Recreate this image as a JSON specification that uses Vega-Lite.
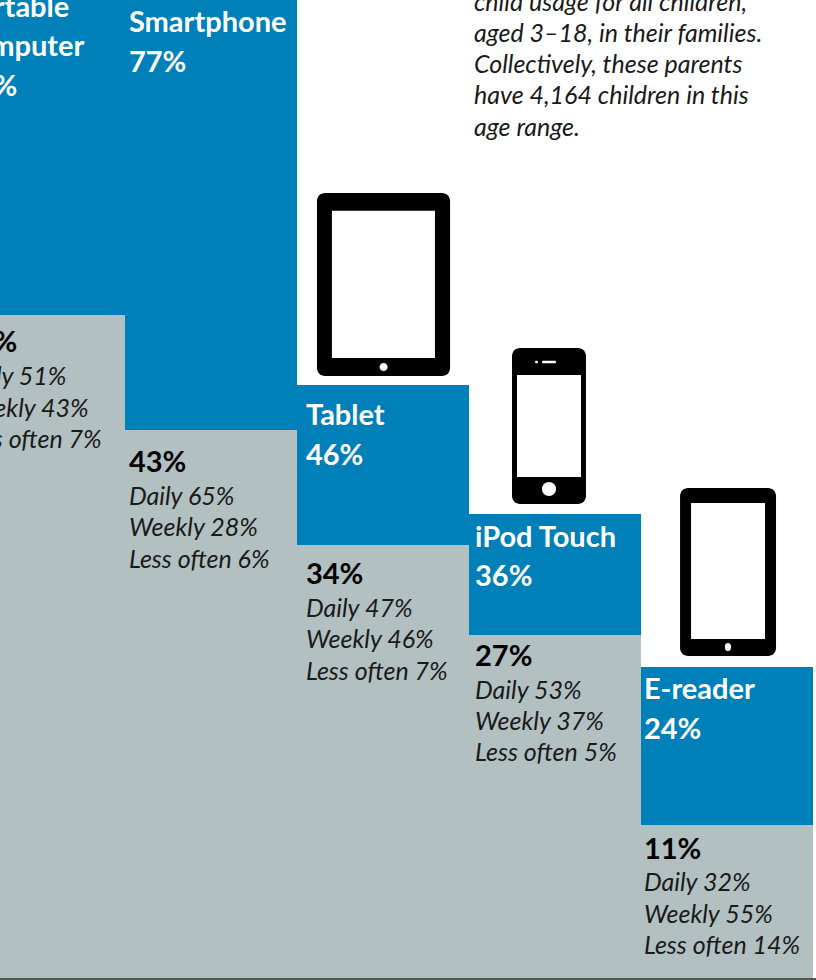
{"$schema":"https://vega.github.io/schema/vega-lite/v6.json","width":816,"height":980,"autosize":"none","padding":0,"background":"white","config":{"view":{"stroke":null}},
"datasets":{
"bars":[{"device":"Portable computer","start":0,"end":1,"owned":87,"used":51.47},{"device":"Smartphone","start":1,"end":2,"owned":77,"used":42.56},{"device":"Tablet","start":2,"end":3,"owned":46.05,"used":33.64},{"device":"iPod Touch","start":3,"end":4,"owned":36.05,"used":26.67},{"device":"E-reader","start":4,"end":5,"owned":24.19,"used":11.94}],
"parts":[
{"device":"Tablet","part":"body","a":2.116,"b":2.89,"top":60.93,"bottom":46.74},
{"device":"Tablet","part":"screen","a":2.203,"b":2.802,"top":59.55,"bottom":48.14},
{"device":"Tablet","part":"button","a":2.48,"b":2.527,"top":47.75,"bottom":47.13},
{"device":"iPod Touch","part":"body","a":3.25,"b":3.68,"top":48.91,"bottom":36.82},
{"device":"iPod Touch","part":"screen","a":3.279,"b":3.651,"top":46.82,"bottom":38.91},
{"device":"iPod Touch","part":"button","a":3.424,"b":3.506,"top":38.53,"bottom":37.44},
{"device":"iPod Touch","part":"button","a":3.424,"b":3.506,"top":47.93,"bottom":47.73},
{"device":"iPod Touch","part":"button","a":3.384,"b":3.401,"top":47.93,"bottom":47.73},
{"device":"E-reader","part":"body","a":4.227,"b":4.785,"top":38.07,"bottom":25.04},
{"device":"E-reader","part":"screen","a":4.291,"b":4.721,"top":36.9,"bottom":26.36},
{"device":"E-reader","part":"button","a":4.488,"b":4.523,"top":26.05,"bottom":25.43}],
"labels":[
{"text":"Portable","kind":"head","pos":0.04,"level":75.35},
{"text":"computer","kind":"head","pos":0.04,"level":72.33},
{"text":"87%","kind":"head","pos":0.04,"level":69.22},
{"text":"Smartphone","kind":"head","pos":1.023,"level":74.19},
{"text":"77%","kind":"head","pos":1.023,"level":71.09},
{"text":"Tablet","kind":"head","pos":2.052,"level":43.72},
{"text":"46%","kind":"head","pos":2.052,"level":40.62},
{"text":"iPod Touch","kind":"head","pos":3.035,"level":34.26},
{"text":"36%","kind":"head","pos":3.035,"level":31.24},
{"text":"E-reader","kind":"head","pos":4.017,"level":22.48},
{"text":"24%","kind":"head","pos":4.017,"level":19.38},
{"text":"52%","kind":"use","pos":0.04,"level":49.38},
{"text":"Daily 51%","kind":"detail","pos":0.04,"level":46.74},
{"text":"Weekly 43%","kind":"detail","pos":0.04,"level":44.26},
{"text":"Less often 7%","kind":"detail","pos":0.04,"level":41.86},
{"text":"43%","kind":"use","pos":1.023,"level":40.08},
{"text":"Daily 65%","kind":"detail","pos":1.023,"level":37.44},
{"text":"Weekly 28%","kind":"detail","pos":1.023,"level":35.04},
{"text":"Less often 6%","kind":"detail","pos":1.023,"level":32.56},
{"text":"34%","kind":"use","pos":2.052,"level":31.4},
{"text":"Daily 47%","kind":"detail","pos":2.052,"level":28.76},
{"text":"Weekly 46%","kind":"detail","pos":2.052,"level":26.36},
{"text":"Less often 7%","kind":"detail","pos":2.052,"level":23.88},
{"text":"27%","kind":"use","pos":3.035,"level":25.04},
{"text":"Daily 53%","kind":"detail","pos":3.035,"level":22.4},
{"text":"Weekly 37%","kind":"detail","pos":3.035,"level":20},
{"text":"Less often 5%","kind":"detail","pos":3.035,"level":17.6},
{"text":"11%","kind":"use","pos":4.017,"level":10.08},
{"text":"Daily 32%","kind":"detail","pos":4.017,"level":7.52},
{"text":"Weekly 55%","kind":"detail","pos":4.017,"level":5.04},
{"text":"Less often 14%","kind":"detail","pos":4.017,"level":2.64},
{"text":"child usage for all children,","kind":"detail","pos":3.029,"level":75.74},
{"text":"aged 3–18, in their families.","kind":"detail","pos":3.029,"level":73.33},
{"text":"Collectively, these parents","kind":"detail","pos":3.029,"level":70.93},
{"text":"have 4,164 children in this","kind":"detail","pos":3.029,"level":68.53},
{"text":"age range.","kind":"detail","pos":3.029,"level":66.05}]
},
"layer":[
{"data":{"name":"bars"},"mark":{"type":"rect","clip":true,"color":"#0080b8"},"encoding":{"x":{"field":"start","type":"quantitative"},"x2":{"field":"end"},"y":{"field":"owned","type":"quantitative"},"y2":{"field":"used"}}},
{"data":{"name":"bars"},"mark":{"type":"rect","clip":true,"color":"#b2c0c1"},"encoding":{"x":{"field":"start","type":"quantitative"},"x2":{"field":"end"},"y":{"field":"used","type":"quantitative"},"y2":{"datum":0}}},
{"data":{"values":[{"from":0.27,"to":5.02,"top":0.08,"bottom":-0.08}]},"mark":{"type":"rect","clip":true,"color":"#555555"},"encoding":{"x":{"field":"from","type":"quantitative"},"x2":{"field":"to"},"y":{"field":"top","type":"quantitative"},"y2":{"field":"bottom"}}},
{"data":{"name":"parts"},"transform":[{"filter":"datum.part==='body'"}],"mark":{"type":"rect","color":"#000000","cornerRadius":8},"encoding":{"x":{"field":"a","type":"quantitative"},"x2":{"field":"b"},"y":{"field":"top","type":"quantitative"},"y2":{"field":"bottom"}}},
{"data":{"name":"parts"},"transform":[{"filter":"datum.part==='screen'"}],"mark":{"type":"rect","color":"#ffffff"},"encoding":{"x":{"field":"a","type":"quantitative"},"x2":{"field":"b"},"y":{"field":"top","type":"quantitative"},"y2":{"field":"bottom"}}},
{"data":{"name":"parts"},"transform":[{"filter":"datum.part==='button'"}],"mark":{"type":"rect","color":"#ffffff","cornerRadius":7},"encoding":{"x":{"field":"a","type":"quantitative"},"x2":{"field":"b"},"y":{"field":"top","type":"quantitative"},"y2":{"field":"bottom"}}},
{"data":{"name":"labels"},"transform":[{"filter":"datum.kind==='head'"}],"mark":{"type":"text","clip":true,"align":"left","baseline":"middle","dy":1,"font":"Lato","fontWeight":"bold","fontSize":29,"color":"#ffffff"},"encoding":{"x":{"field":"pos","type":"quantitative"},"y":{"field":"level","type":"quantitative"},"text":{"field":"text"}}},
{"data":{"name":"labels"},"transform":[{"filter":"datum.kind==='use'"}],"mark":{"type":"text","clip":true,"align":"left","baseline":"middle","dy":1,"font":"Lato","fontWeight":"bold","fontSize":29,"color":"#000000"},"encoding":{"x":{"field":"pos","type":"quantitative"},"y":{"field":"level","type":"quantitative"},"text":{"field":"text"}}},
{"data":{"name":"labels"},"transform":[{"filter":"datum.kind==='detail'"}],"mark":{"type":"text","clip":true,"align":"left","baseline":"middle","dy":1,"font":"Lato","fontStyle":"italic","fontSize":25,"color":"#1a1a1a"},"encoding":{"x":{"field":"pos","type":"quantitative"},"y":{"field":"level","type":"quantitative"},"text":{"field":"text"}}}
],
"encoding":{"x":{"scale":{"domain":[0.2733,5.0174],"nice":false,"zero":false},"axis":null},"y":{"scale":{"domain":[-0.0775,75.89],"nice":false,"zero":false},"axis":null}}}
